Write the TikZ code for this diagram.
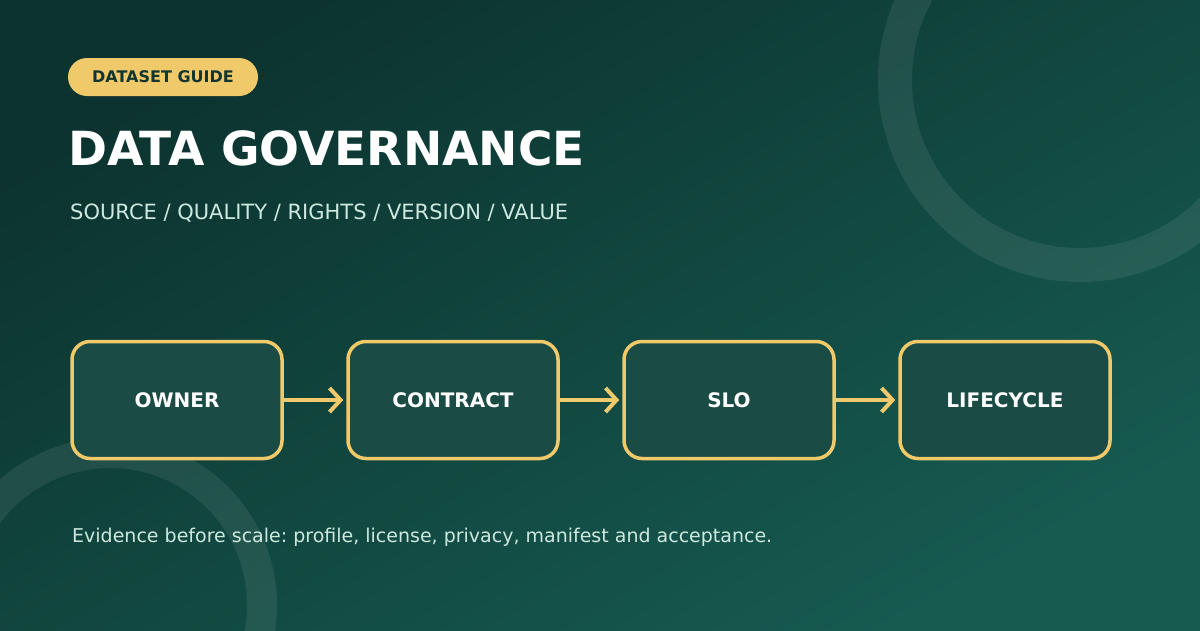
\documentclass[tikz,border=0pt]{standalone}
\usepackage{fontspec}
\setmainfont{DejaVu Sans}
\usetikzlibrary{arrows.meta}
\frenchspacing
\definecolor{bgA}{HTML}{0C332F}
\definecolor{bgD}{HTML}{165A50}
\definecolor{gold}{HTML}{F0C96A}
\definecolor{boxfill}{HTML}{1A4B45}
\definecolor{darktxt}{HTML}{12352F}
\definecolor{softtxt}{HTML}{CDE8DF}
\tikzset{
  stepbox/.style={draw=gold, line width=3.5pt, fill=boxfill, rounded corners=18pt,
    minimum width=210pt, minimum height=117pt, text=white,
    font=\fontsize{20}{24}\selectfont\bfseries},
  flow/.style={draw=gold, line width=4pt, -{Straight Barb[length=11pt,width=24pt,line width=4pt]}},
  ring/.style={draw=white, draw opacity=0.08},
}
\begin{document}
\begin{tikzpicture}[x=1pt,y=-1pt]
\useasboundingbox (0,0) rectangle (1200,630);
\shade[top color=bgA, bottom color=bgD, shading angle=30] (0,0) rectangle (1200,630);
\draw[ring, line width=34pt] (1080,80) circle[radius=185];
\draw[ring, line width=30pt] (110,605) circle[radius=152];
% badge
\node[fill=gold, rounded corners=19pt, minimum width=190pt, minimum height=38pt, inner sep=0pt,
  text=darktxt, font=\fontsize{16}{18}\selectfont\bfseries] (badge) at (163,77) {DATASET GUIDE};
% title
\node[anchor=base west, inner sep=0pt, text=white, font=\fontsize{47}{56}\selectfont\bfseries] (title) at (68,165) {DATA GOVERNANCE};
\node[anchor=base west, inner sep=0pt, text=softtxt, font=\fontsize{21}{24}\selectfont] (sub) at (70,219) {SOURCE / QUALITY / RIGHTS / VERSION / VALUE};
% boxes
\node[stepbox] (owner) at (177,400) {OWNER};
\node[stepbox] (contract) at (453,400) {CONTRACT};
\node[stepbox] (slo) at (729,400) {SLO};
\node[stepbox] (life) at (1005,400) {LIFECYCLE};
\draw[flow] (owner.east) -- ([xshift=-3pt]contract.west);
\draw[flow] (contract.east) -- ([xshift=-3pt]slo.west);
\draw[flow] (slo.east) -- ([xshift=-3pt]life.west);
% footer
\node[anchor=base west, inner sep=0pt, text=softtxt, font=\fontsize{19}{22}\selectfont] (foot) at (72,542) {Evidence before scale: profile, license, privacy, manifest and acceptance.};
\end{tikzpicture}
\end{document}
